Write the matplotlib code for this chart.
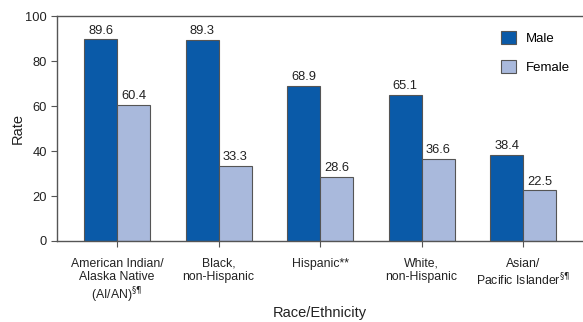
import matplotlib
matplotlib.use("Agg")
import matplotlib.pyplot as plt
import numpy as np

plt.rcParams['font.family'] = ['Liberation Sans', 'DejaVu Sans']

categories = ["American Indian/\nAlaska Native\n(AI/AN)$^{§¶}$",
              "Black,\nnon-Hispanic",
              "Hispanic**",
              "White,\nnon-Hispanic",
              "Asian/\nPacific Islander$^{§¶}$"]
male = [89.6, 89.3, 68.9, 65.1, 38.4]
female = [60.4, 33.3, 28.6, 36.6, 22.5]
yticks = [0, 20, 40, 60, 80, 100]

male_color = "#0a5aa8"
female_color = "#a9b9dc"
edge = "#555555"

fig = plt.figure(figsize=(5.83, 3.22), dpi=100)
ax = fig.add_axes([0.098, 0.2516, 0.902, 0.6984])

x = np.arange(len(categories))
w = 0.325
b1 = ax.bar(x - w/2, male, w, color=male_color, edgecolor=edge, linewidth=0.8, label="Male")
b2 = ax.bar(x + w/2, female, w, color=female_color, edgecolor=edge, linewidth=0.8, label="Female")

for rect, v in zip(b1, male):
    ax.text(rect.get_x() + rect.get_width()/2, v + 1.2, f"{v:.1f}", ha="center", va="bottom",
            fontsize=9.3, color="#222222")
for rect, v in zip(b2, female):
    ax.text(rect.get_x() + rect.get_width()/2, v + 1.2, f"{v:.1f}", ha="center", va="bottom",
            fontsize=9.3, color="#222222")

ax.set_xlim(-0.59, 4.59)
ax.set_ylim(0, 100)
ax.set_yticks(yticks)
ax.set_xticks(x)
ax.set_xticklabels(categories, fontsize=8.8, color="#222222", linespacing=1.15)
ax.tick_params(axis='y', labelsize=9.3, length=4, width=0.8, colors="#555555", labelcolor="#222222")
ax.tick_params(axis='x', length=4, width=0.8, colors="#555555", labelcolor="#222222", pad=8)

for s in ["left", "bottom", "top"]:
    ax.spines[s].set_color("#555555")
    ax.spines[s].set_linewidth(1.0)
ax.spines["right"].set_visible(False)

ax.set_ylabel("Rate", fontsize=10.5, color="#222222")
ax.yaxis.set_label_coords(-0.062, 0.5)
ax.set_xlabel("Race/Ethnicity", fontsize=10.5, color="#222222")
ax.xaxis.set_label_coords(0.5, -0.29)

leg = ax.legend(loc="upper right", bbox_to_anchor=(0.997, 0.985), frameon=False, fontsize=9.5,
                handlelength=1.15, handleheight=1.15, labelspacing=1.1, handletextpad=0.7)

fig.savefig("out.png", dpi=100)
